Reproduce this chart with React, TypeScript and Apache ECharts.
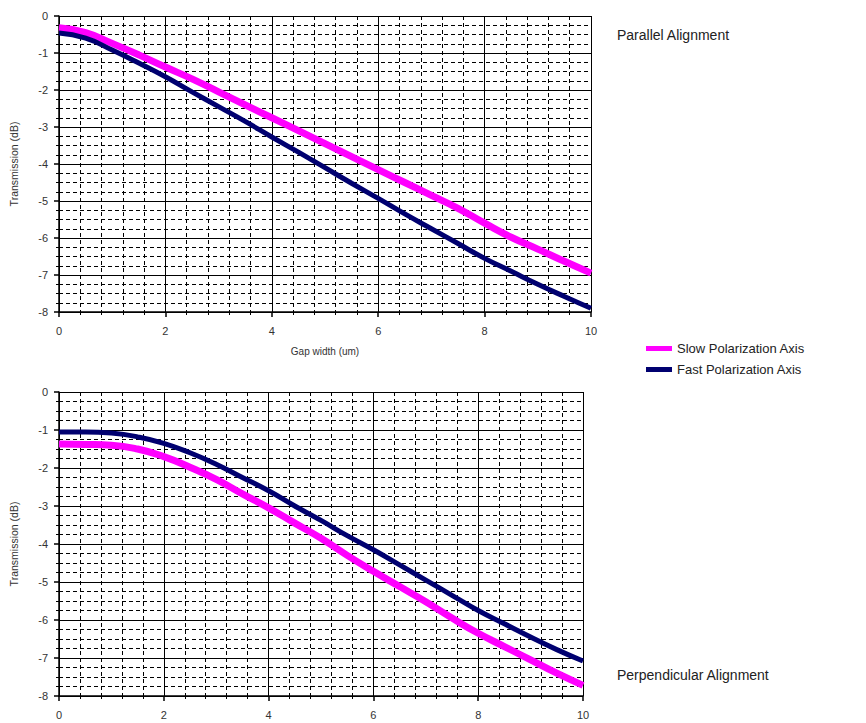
import React, { useEffect, useRef } from "react";
import * as echarts from "echarts";

const gapWidth = [0, 0.5, 1, 1.5, 2, 2.5, 3, 3.5, 4, 4.5, 5, 5.5, 6, 6.5, 7, 7.5, 8, 8.5, 9, 9.5, 10];

const parallelSlow = [-0.32, -0.45, -0.74, -1.05, -1.38, -1.7, -2.05, -2.4, -2.75, -3.1, -3.45, -3.8, -4.15, -4.5, -4.85, -5.2, -5.6, -5.98, -6.3, -6.63, -6.95];
const parallelFast = [-0.46, -0.6, -0.92, -1.27, -1.64, -2.05, -2.45, -2.85, -3.27, -3.68, -4.1, -4.52, -4.93, -5.35, -5.75, -6.15, -6.55, -6.9, -7.25, -7.58, -7.9];

const perpSlow = [-1.37, -1.38, -1.4, -1.5, -1.7, -1.98, -2.3, -2.68, -3.05, -3.45, -3.85, -4.3, -4.72, -5.12, -5.52, -5.95, -6.35, -6.7, -7.05, -7.4, -7.72];
const perpFast = [-1.05, -1.05, -1.08, -1.18, -1.35, -1.6, -1.9, -2.25, -2.6, -3.0, -3.38, -3.78, -4.15, -4.55, -4.95, -5.35, -5.75, -6.1, -6.45, -6.78, -7.08];

const seriesNames = ["Slow Polarization Axis", "Fast Polarization Axis"];
const panelTitles = ["Parallel Alignment", "Perpendicular Alignment"];
const yAxisTitle = "Transmission (dB)";
const xAxisTitle = "Gap width (um)";

const SLOW_COLOR = "#ff00ff";
const FAST_COLOR = "#000070";
const FONT = "Liberation Sans";

const pair = (ys: number[]) => gapWidth.map((x, i) => [x, ys[i]]);

export default function App() {
  const ref = useRef<HTMLDivElement>(null);
  useEffect(() => {
    document.body.style.margin = "0";
    if (!ref.current) return;
    const chart = echarts.init(ref.current, null, { renderer: "svg" });

    const xAxisBase = (gridIndex: number, showName: boolean) => ({
      type: "value",
      gridIndex,
      min: 0,
      max: 10,
      interval: 2,
      name: showName ? xAxisTitle : "",
      nameLocation: "middle",
      nameGap: 34,
      nameTextStyle: { fontFamily: FONT, fontSize: 10, color: "#333" },
      axisLine: { show: true, onZero: false, lineStyle: { color: "#000", width: 1.5 } },
      axisTick: { show: true, length: 5, lineStyle: { color: "#000", width: 1.5 } },
      minorTick: { show: true, splitNumber: 5, length: 3, lineStyle: { color: "#000" } },
      axisLabel: { fontFamily: FONT, fontSize: 11, color: "#333", margin: 13 },
      splitLine: { show: true, lineStyle: { color: "#000", width: 1 } },
      minorSplitLine: { show: true, lineStyle: { color: "#000", width: 1, type: [4, 3] } },
    });

    const yAxisBase = (gridIndex: number) => ({
      type: "value",
      gridIndex,
      min: -8,
      max: 0,
      interval: 1,
      name: yAxisTitle,
      nameLocation: "middle",
      nameGap: 40,
      nameTextStyle: { fontFamily: FONT, fontSize: 10.5, color: "#333" },
      axisLine: { show: true, onZero: false, lineStyle: { color: "#000", width: 1.5 } },
      axisTick: { show: true, length: 5, lineStyle: { color: "#000", width: 1.5 } },
      minorTick: { show: true, splitNumber: 4, length: 3, lineStyle: { color: "#000" } },
      axisLabel: { fontFamily: FONT, fontSize: 11, color: "#333", margin: 11 },
      splitLine: { show: true, lineStyle: { color: "#000", width: 1 } },
      minorSplitLine: { show: true, lineStyle: { color: "#000", width: 1, type: [4, 3] } },
    });

    const lineSeries = (name: string, data: number[], idx: number, color: string, width: number) => ({
      name,
      type: "line",
      xAxisIndex: idx,
      yAxisIndex: idx,
      data: pair(data),
      smooth: true,
      showSymbol: false,
      symbol: "none",
      lineStyle: { color, width },
      itemStyle: { color },
      z: 3,
    });

    chart.setOption({
      animation: false,
      backgroundColor: "#fff",
      grid: [
        { left: 57, top: 16, width: 534, height: 296 },
        { left: 57, top: 392, width: 526, height: 304 },
      ],
      xAxis: [xAxisBase(0, true), xAxisBase(1, false)],
      yAxis: [yAxisBase(0), yAxisBase(1)],
      legend: {
        orient: "vertical",
        left: 641,
        top: 337,
        itemGap: 8,
        itemWidth: 26,
        itemHeight: 5,
        icon: "rect",
        data: seriesNames,
        textStyle: { fontFamily: FONT, fontSize: 13, color: "#222" },
      },
      title: [
        { text: panelTitles[0], left: 612, top: 23, textStyle: { fontFamily: FONT, fontSize: 14, fontWeight: "normal", color: "#222" } },
        { text: panelTitles[1], left: 612, top: 663, textStyle: { fontFamily: FONT, fontSize: 14, fontWeight: "normal", color: "#222" } },
      ],
      series: [
        lineSeries(seriesNames[0], parallelSlow, 0, SLOW_COLOR, 7),
        lineSeries(seriesNames[1], parallelFast, 0, FAST_COLOR, 5),
        lineSeries(seriesNames[0], perpSlow, 1, SLOW_COLOR, 7),
        lineSeries(seriesNames[1], perpFast, 1, FAST_COLOR, 5),
      ],
    });
    return () => chart.dispose();
  }, []);
  return <div ref={ref} style={{ width: 866, height: 723 }} />;
}
